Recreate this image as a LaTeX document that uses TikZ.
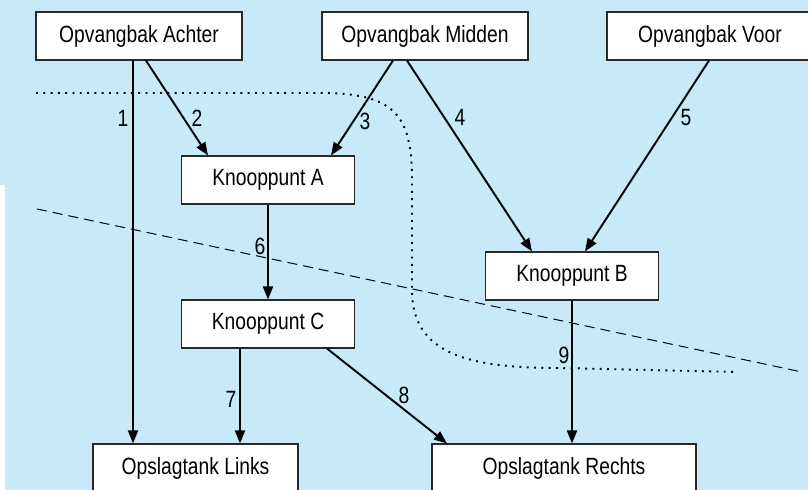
\documentclass[tikz,border=0pt]{standalone}
\usepackage{fontspec}
\setmainfont{Liberation Sans}[FakeStretch=0.82]
\usetikzlibrary{arrows.meta}
\definecolor{panel}{RGB}{199,233,248}
\definecolor{rim}{RGB}{40,40,40}
\tikzset{
  box/.style={draw=rim, line width=1.1bp, fill=white, minimum height=48bp,
    inner sep=0pt, font=\fontsize{23.5bp}{27bp}\selectfont},
  flow/.style={line width=1.9bp, -{Triangle[length=13bp,width=10bp]}},
  num/.style={inner sep=0pt, font=\fontsize{23.5bp}{27bp}\selectfont},
  border1/.style={line width=1.9bp, dash pattern=on 1.9bp off 5.4bp},
  border2/.style={line width=1bp, dash pattern=on 10bp off 6bp}
}
\begin{document}
\begin{tikzpicture}[x=1bp, y=-1bp]
  \useasboundingbox (0,0) rectangle (808,490);
  \clip (0,0) rectangle (808,490);
  \fill[white] (0,0) rectangle (808,490);
  \fill[panel] (0,0) rectangle (808,185);
  \fill[panel] (5,185) rectangle (808,490);

  % zone boundaries
  \draw[border1] (36,93) -- (320,93) .. controls (395,93) and (412,115) .. (412,180)
    -- (412,290) .. controls (412,355) and (470,368) .. (560,368) -- (738,372);
  \draw[border2] (37,209) -- (802,372);

  % collection trays
  \node[box, minimum width=206bp] (OA) at (139,36) {Opvangbak Achter};
  \node[box, minimum width=206bp] (OM) at (425,36) {Opvangbak Midden};
  \node[box, minimum width=206bp] (OV) at (710,36) {Opvangbak Voor};
  % junctions
  \node[box, minimum width=173bp] (KA) at (268,180) {Knooppunt A};
  \node[box, minimum width=173bp] (KC) at (268,324) {Knooppunt C};
  \node[box, minimum width=173bp] (KB) at (572,276) {Knooppunt B};
  % storage tanks
  \node[box, minimum width=205bp] (SL) at (195.5,468) {Opslagtank Links};
  \node[box, minimum width=264bp] (SR) at (564,468) {Opslagtank Rechts};

  % pipes
  \draw[flow] ([xshift=-6bp]OA.south) -- ([xshift=-62.5bp]SL.north);
  \draw[flow] ([xshift=7bp]OA.south) -- ([xshift=-60bp]KA.north);
  \draw[flow] ([xshift=-32bp]OM.south) -- ([xshift=63bp]KA.north);
  \draw[flow] ([xshift=-18bp]OM.south) -- ([xshift=-40bp]KB.north);
  \draw[flow] ([xshift=-1bp]OV.south) -- ([xshift=13bp]KB.north);
  \draw[flow] (KA.south) -- (KC.north);
  \draw[flow] ([xshift=-28bp]KC.south) -- ([xshift=44.5bp]SL.north);
  \draw[flow] ([xshift=59bp]KC.south) -- ([xshift=-117bp]SR.north);
  \draw[flow] (KB.south) -- ([xshift=8bp]SR.north);

  % pipe numbers
  \node[num] (n1) at (123,118) {1};
  \node[num] (n2) at (197,118) {2};
  \node[num] (n3) at (365,121) {3};
  \node[num] (n4) at (460,117) {4};
  \node[num] (n5) at (686,118) {5};
  \node[num] (n6) at (260,246) {6};
  \node[num] (n7) at (231,399) {7};
  \node[num] (n8) at (404,395) {8};
  \node[num] (n9) at (564,355) {9};
\end{tikzpicture}
\end{document}
